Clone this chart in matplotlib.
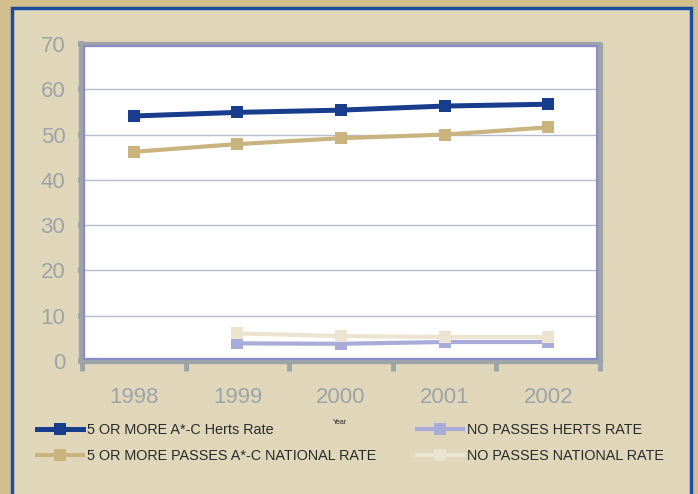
import numpy as np
import matplotlib
matplotlib.use("Agg")
from matplotlib import pyplot as plt
from matplotlib.patches import Rectangle

# data
years = ["1998", "1999", "2000", "2001", "2002"]
herts_5plus = [54.1, 54.9, 55.4, 56.3, 56.7]
national_5plus = [46.2, 47.9, 49.2, 50.0, 51.6]
herts_nopass = [np.nan, 3.9, 3.8, 4.2, 4.2]
national_nopass = [np.nan, 6.1, 5.5, 5.3, 5.3]

series = [
    ("5 OR MORE A*-C Herts Rate", herts_5plus, "#173d8c", 3.6, 8.2),
    ("5 OR MORE PASSES A*-C NATIONAL RATE", national_5plus, "#c9b480", 3.0, 8.0),
    ("NO PASSES HERTS RATE", herts_nopass, "#a9acd9", 3.0, 8.0),
    ("NO PASSES NATIONAL RATE", national_nopass, "#ece4d1", 3.0, 8.0),
]

plt.rcParams['font.family'] = ['Liberation Sans', 'DejaVu Sans']

fig = plt.figure(figsize=(6.98, 4.94), dpi=100)
fig.patch.set_facecolor("#d3bf8e")

# inner panel with blue border
panel = Rectangle((12 / 698, -0.05), 679 / 698, 1.05 - 8 / 494,
                  transform=fig.transFigure, facecolor="#e0d7bb",
                  edgecolor="#1a4d9e", linewidth=2.5, zorder=-5)
fig.patches.append(panel)

ax = fig.add_axes([82 / 698, 133 / 494, 518 / 698, 317 / 494])
ax.set_facecolor("white")
ax.set_zorder(2)

x = np.arange(1, len(years) + 1)
handles = []
for name, vals, col, lw, ms in series:
    h, = ax.plot(x, vals, color=col, lw=lw, marker="s", ms=ms,
                 markeredgewidth=0, label=name, zorder=3)
    handles.append(h)

ax.set_xlim(0.5, 5.5)
ax.set_ylim(0, 70)
ax.set_yticks(range(0, 71, 10))
ax.yaxis.grid(True, color="#b8bccc", lw=1)
ax.set_axisbelow(True)

gray = "#9ea3a8"
for side, s in ax.spines.items():
    s.set_color(gray)
    s.set_linewidth(4.5 if side in ("left", "bottom") else 3.8)
    s.set_capstyle("round")
# thin purple line inside the gray frame
ax.add_patch(Rectangle((0.004, 0.005), 0.99, 0.99, transform=ax.transAxes,
                       fill=False, edgecolor="#8a8cc8", lw=1.5, zorder=4))

ax.tick_params(axis="y", length=3, width=4, color=gray, labelcolor=gray,
               labelsize=16, pad=9)
ax.set_xticks(np.arange(0.5, 5.6, 1))
ax.set_xticklabels([])
ax.tick_params(axis="x", which="major", length=7, width=3.5, color=gray)
ax.set_xticks(x, minor=True)
ax.set_xticklabels(years, minor=True)
ax.tick_params(axis="x", which="minor", length=0, labelcolor=gray,
               labelsize=16, pad=19)

fig.text(340 / 698, 1 - 422 / 494, "Year", fontsize=5, color="#222222",
         ha="center", va="center")

leg = fig.legend(handles=handles, ncol=2, loc="upper left",
                 bbox_to_anchor=(37 / 698, 1 - 423 / 494), frameon=False,
                 fontsize=10.4, handlelength=3.2, handletextpad=0.25,
                 columnspacing=2.85, labelspacing=0.85, borderpad=0,
                 borderaxespad=0)
for t in leg.get_texts():
    t.set_color("#2a2a2a")

fig.savefig("out.png", dpi=100, facecolor=fig.get_facecolor())
